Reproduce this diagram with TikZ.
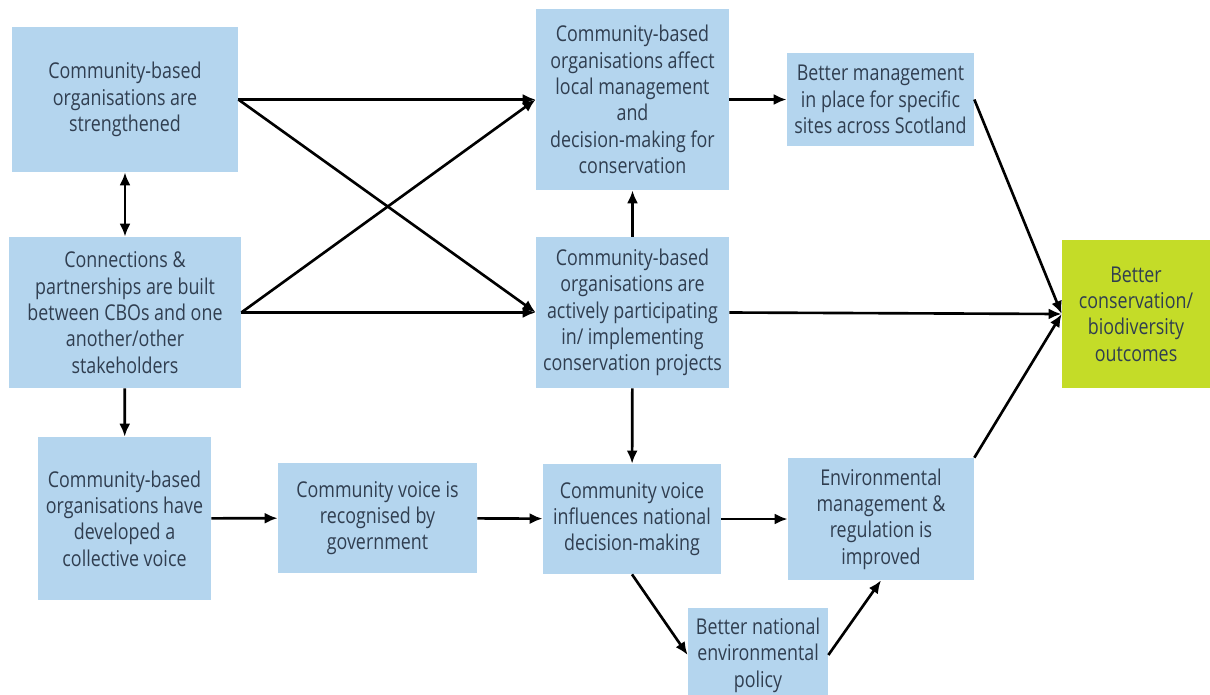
\documentclass[tikz,border=0pt]{standalone}
\usepackage{fontspec}
\setmainfont{Open Sans}[FakeStretch=0.82]
\usetikzlibrary{arrows.meta}
\definecolor{boxblue}{RGB}{180,213,238}
\definecolor{boxgreen}{RGB}{196,220,40}
\definecolor{boxtext}{RGB}{48,62,80}
\tikzset{
	box/.style={fill=boxblue, text=boxtext, align=center, inner sep=0pt, font=\fontsize{12.4}{15}\selectfont},
	goal/.style={box, fill=boxgreen},
	arr/.style={line width=1.5pt, -{Latex[length=2.6mm,width=2.2mm]}},
	dblarr/.style={line width=1.5pt, {Latex[length=2.6mm,width=2.2mm]}-{Latex[length=2.6mm,width=2.2mm]}}
}

\begin{document}
\begin{tikzpicture}[x=0.02cm, y=-0.02cm]
		%%%%% START %%%%%
		
		\useasboundingbox[fill=white] (0, 0) rectangle (1210, 694);
		
		% left column
		\node[box, minimum width=4.52cm, minimum height=2.9cm] (strong) at (125, 99.5) {Community-based\\organisations are\\strengthened};
		\node[box, minimum width=4.64cm, minimum height=3.02cm] (partner) at (125, 312.5) {Connections \&\\partnerships are built\\between CBOs and one\\another/other\\stakeholders};
		\node[box, minimum width=3.46cm, minimum height=3.26cm] (collective) at (124.5, 518.5) {Community-based\\organisations have\\developed a\\collective voice};
		
		% bottom row
		\node[box, minimum width=3.98cm, minimum height=2.2cm] (recognised) at (377.5, 518) {Community voice is\\recognised by\\government};
		\node[box, minimum width=3.56cm, minimum height=2.2cm] (influence) at (632, 519) {Community voice\\influences national\\decision-making};
		\node[box, minimum width=2.8cm, minimum height=1.88cm] (policy) at (758, 655) {Better national\\environmental\\policy};
		\node[box, minimum width=3.72cm, minimum height=2.44cm] (regulation) at (881, 519) {Environmental\\management \&\\regulation is\\improved};
		
		% middle column
		\node[box, minimum width=3.86cm, minimum height=3.62cm] (local) at (632.5, 99.5) {Community-based\\organisations affect\\local management\\and\\decision-making for\\conservation};
		\node[box, minimum width=3.86cm, minimum height=3.02cm] (active) at (632.5, 312.5) {Community-based\\organisations are\\actively participating\\in/ implementing\\conservation projects};
		\node[box, minimum width=3.74cm, minimum height=1.86cm] (sites) at (880.5, 99.5) {Better management\\in place for specific\\sites across Scotland};
		
		% outcome
		\node[goal, minimum width=2.96cm, minimum height=2.96cm] (outcome) at (1136, 314) {Better\\conservation/\\biodiversity\\outcomes};
		
		% links
		\draw[dblarr] (strong) -- (partner);
		\draw[arr] (strong.east) -- (local.west);
		\draw[arr] (strong.east) -- (active.west);
		\draw[arr] (partner.east) -- (local.west);
		\draw[arr] (partner.east) -- (active.west);
		\draw[arr] (partner) -- (collective);
		\draw[arr] (collective) -- (recognised);
		\draw[arr] (recognised) -- (influence);
		\draw[arr] (active) -- (local);
		\draw[arr] (active) -- (influence);
		\draw[arr] (local) -- (sites);
		\draw[arr] (influence) -- (regulation);
		\draw[arr] (influence.south) -- (policy.west);
		\draw[arr] (policy.east) -- (regulation.south);
		\draw[arr] (sites.east) -- (outcome.west);
		\draw[arr] (active.east) -- (outcome.west);
		\draw[arr] (regulation.north east) -- (outcome.west);
		
		%%%%% END %%%%%
	\end{tikzpicture}
\end{document}
